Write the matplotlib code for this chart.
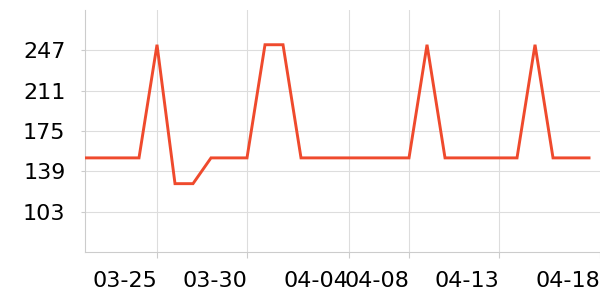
import numpy as np
import matplotlib
matplotlib.use("Agg")
import matplotlib.pyplot as plt

# daily values, one per category slot
values = [151, 151, 151, 151, 252, 128, 128, 151, 151, 151,
          252, 252, 151, 151, 151, 151, 151, 151, 151, 252,
          151, 151, 151, 151, 151, 252, 151, 151, 151]
tick_labels = ["03-25", "03-30", "04-04", "04-08", "04-13", "04-18"]
tick_pos = [4, 9, 14.65, 18, 23, 28.6]
y_ticks = [103, 139, 175, 211, 247]

x = np.arange(len(values))

fig = plt.figure(figsize=(6, 3), dpi=100)
ax = fig.add_axes([85 / 600, 48 / 300, 515 / 600, 242 / 300])

ax.plot(x, values, color="#ef4a2d", lw=2.1, solid_joinstyle="miter", zorder=3)

ax.set_xlim(0, 28.61)
ax.set_ylim(67, 283)
ax.set_yticks(y_ticks)
ax.set_xticks(tick_pos)
ax.set_xticklabels(tick_labels, ha="right")

ax.grid(True, color="#dddddd", lw=0.8)
ax.get_xgridlines()[-1].set_visible(False)
ax.set_axisbelow(True)
for s in ["top", "right"]:
    ax.spines[s].set_visible(False)
for s in ["left", "bottom"]:
    ax.spines[s].set_color("#cccccc")
    ax.spines[s].set_linewidth(0.8)

ax.tick_params(axis="y", length=3, color="#cccccc", labelsize=16, pad=11)
ax.tick_params(axis="x", length=4, color="#cccccc", labelsize=16, pad=10)

fig.savefig("out.png", dpi=100)
